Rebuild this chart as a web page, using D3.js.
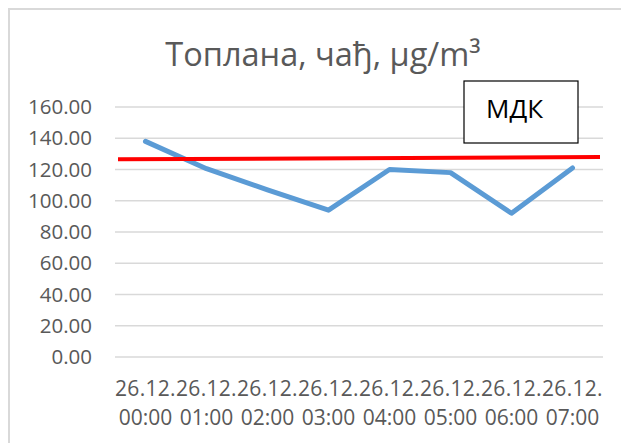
<!DOCTYPE html>
<html>
<head>
<meta charset="utf-8">
<script src="https://cdn.jsdelivr.net/npm/d3@7"></script>
<style>
    body { margin: 0; background: #fff; }
    text { font-family: "Open Sans", sans-serif; }
</style>
</head>
<body>
<svg id="chart"></svg>
<script>
// data
const categories = [
    ["26.12.", "00:00"], ["26.12.", "01:00"], ["26.12.", "02:00"], ["26.12.", "03:00"],
    ["26.12.", "04:00"], ["26.12.", "05:00"], ["26.12.", "06:00"], ["26.12.", "07:00"]
];
const values = [138.0, 120.5, 107.0, 94.0, 120.0, 118.0, 92.0, 121.0];
const mdk_ends = [126.5, 128.0];   // hand drawn limit line, left/right
const y_ticks = [0, 20, 40, 60, 80, 100, 120, 140, 160];
const title = "Топлана, чађ, µg/m³";
const mdk_label = "МДК";

const width = 621, height = 443;
const margin = {top: 107, right: 18, bottom: 86, left: 115};

const svg = d3.select('#chart')
    .attr('width', width)
    .attr('height', height);

// frame (only top and left visible in the crop)
svg.append('path')
    .attr('d', `M9,${height} V9 H${width}`)
    .attr('fill', 'none')
    .attr('stroke', '#d9d9d9')
    .attr('stroke-width', 2);

const chart = svg.append('g')
    .attr('transform', `translate(${margin.left}, ${margin.top})`);

const inner_width = width - margin.left - margin.right;
const inner_height = height - margin.top - margin.bottom;

const keys = categories.map(d => d.join(' '));

const xscale = d3.scaleBand()
    .domain(keys)
    .range([0, inner_width]);

const yscale = d3.scaleLinear()
    .domain([0, 160])
    .range([inner_height, 0]);

// gridlines
chart.append('g')
    .selectAll('line')
    .data(y_ticks)
    .join('line')
    .attr('x1', 0)
    .attr('x2', inner_width)
    .attr('y1', d => yscale(d))
    .attr('y2', d => yscale(d))
    .attr('stroke', '#d9d9d9')
    .attr('stroke-width', 1.5);

// y axis
const yaxis = d3.axisLeft(yscale)
    .tickValues(y_ticks)
    .tickFormat(d3.format('.2f'))
    .tickSize(0)
    .tickPadding(23);

chart.append('g')
    .call(yaxis)
    .call(g => g.select('.domain').remove())
    .selectAll('text')
    .attr('fill', '#595959')
    .attr('font-size', '20.5px')
    .attr('font-family', '"Open Sans", sans-serif');

// x axis, two line labels
const xaxis_group = chart.append('g')
    .attr('transform', `translate(0, ${inner_height})`);

const xlabels = xaxis_group.selectAll('text')
    .data(categories)
    .join('text')
    .attr('x', (d, i) => xscale(keys[i]) + xscale.bandwidth() / 2)
    .attr('text-anchor', 'middle')
    .attr('fill', '#595959')
    .attr('font-size', '21px');
xlabels.append('tspan')
    .attr('x', (d, i) => xscale(keys[i]) + xscale.bandwidth() / 2)
    .attr('y', 39)
    .attr('letter-spacing', '0.3px')
    .text(d => d[0]);
xlabels.append('tspan')
    .attr('x', (d, i) => xscale(keys[i]) + xscale.bandwidth() / 2)
    .attr('y', 68)
    .text(d => d[1]);

// series line
const line = d3.line()
    .x((d, i) => xscale(keys[i]) + xscale.bandwidth() / 2)
    .y(d => yscale(d));

chart.append('path')
    .datum(values)
    .attr('d', line)
    .attr('fill', 'none')
    .attr('stroke', '#5b9bd5')
    .attr('stroke-width', 5)
    .attr('stroke-linejoin', 'round')
    .attr('stroke-linecap', 'round');

// MDK limit line
chart.append('line')
    .attr('x1', 3)
    .attr('x2', inner_width - 3)
    .attr('y1', yscale(mdk_ends[0]))
    .attr('y2', yscale(mdk_ends[1]))
    .attr('stroke', '#ff0000')
    .attr('stroke-width', 4);

// MDK label box
const box = svg.append('g')
    .attr('transform', 'translate(464, 81)');
box.append('rect')
    .attr('width', 114)
    .attr('height', 62)
    .attr('fill', '#fff')
    .attr('stroke', '#000')
    .attr('stroke-width', 1.2);
box.append('text')
    .attr('x', 22)
    .attr('y', 37)
    .attr('fill', '#000')
    .attr('font-size', '26px')
    .text(mdk_label);

// title
svg.append('text')
    .attr('x', 323)
    .attr('y', 66)
    .attr('text-anchor', 'middle')
    .attr('fill', '#595959')
    .attr('font-size', '32.5px')
    .text(title);
</script>
</body>
</html>
